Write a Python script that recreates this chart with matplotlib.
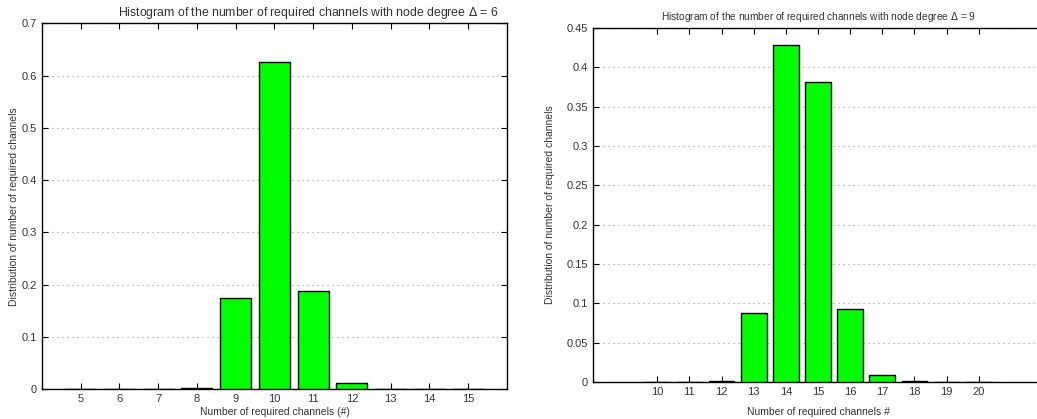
import matplotlib.pyplot as plt

plt.rcParams["font.family"] = ["Liberation Sans", "DejaVu Sans"]

# node degree 6
channels_6 = [5, 6, 7, 8, 9, 10, 11, 12, 13, 14, 15]
dist_6 = [0.0, 0.0, 0.0, 0.002, 0.1746, 0.6253, 0.1886, 0.012, 0.001, 0.0, 0.0]
yticks_6 = [0, 0.1, 0.2, 0.3, 0.4, 0.5, 0.6, 0.7]

# node degree 9
channels_9 = [10, 11, 12, 13, 14, 15, 16, 17, 18, 19, 20]
dist_9 = [0.0, 0.0, 0.0015, 0.0873, 0.428, 0.3814, 0.0924, 0.0085, 0.001, 0.0, 0.0]
yticks_9 = [0, 0.05, 0.1, 0.15, 0.2, 0.25, 0.3, 0.35, 0.4, 0.45]

fig = plt.figure(figsize=(10.37, 4.19), dpi=100)
ax1 = fig.add_axes([0.0405, 0.0709, 0.4484, 0.8735])
ax2 = fig.add_axes([0.5718, 0.0883, 0.434, 0.8449])

fs = 7.5
tfs = 8
txt = "#333333"


def style(ax, xs, ys, yt, xlim, ylim):
    ax.bar(xs, ys, width=0.8, color="#00ff00", edgecolor="black", linewidth=1.0, zorder=3)
    ax.set_xlim(*xlim)
    ax.set_ylim(*ylim)
    ax.set_xticks(xs)
    ax.set_xticklabels([str(x) for x in xs], fontsize=tfs)
    ax.set_yticks(yt)
    ax.set_yticklabels([("%g" % v) for v in yt], fontsize=tfs)
    ax.tick_params(direction="in", length=4, width=0.8, top=True, right=True,
                   colors="black", labelcolor=txt)
    ax.grid(axis="y", color="#999999", linestyle=(0, (1, 3.5)), linewidth=0.8, zorder=0)
    for s in ax.spines.values():
        s.set_linewidth(1.0)
    ax.set_axisbelow(True)


style(ax1, channels_6, dist_6, yticks_6, (4, 16), (0, 0.7))
ax1.set_title("Histogram of the number of required channels with node degree $\\Delta$ = 6",
              fontsize=8.8, x=0.572, pad=5, color=txt)
ax1.set_xlabel("Number of required channels (#)", fontsize=fs, color=txt, labelpad=2)
ax1.set_ylabel("Distribution of number of required channels", fontsize=fs, color=txt,
               labelpad=2)

style(ax2, channels_9, dist_9, yticks_9, (8, 22), (0, 0.45))
ax2.set_title("Histogram of the number of required channels with node degree $\\Delta$ = 9",
              fontsize=7.3, pad=6, color=txt)
ax2.set_xlabel("Number of required channels #", fontsize=fs, color=txt, labelpad=7)
ax2.set_ylabel("Distribution of number of required channels", fontsize=fs, color=txt,
               labelpad=8)

fig.savefig("out.png", dpi=100)
